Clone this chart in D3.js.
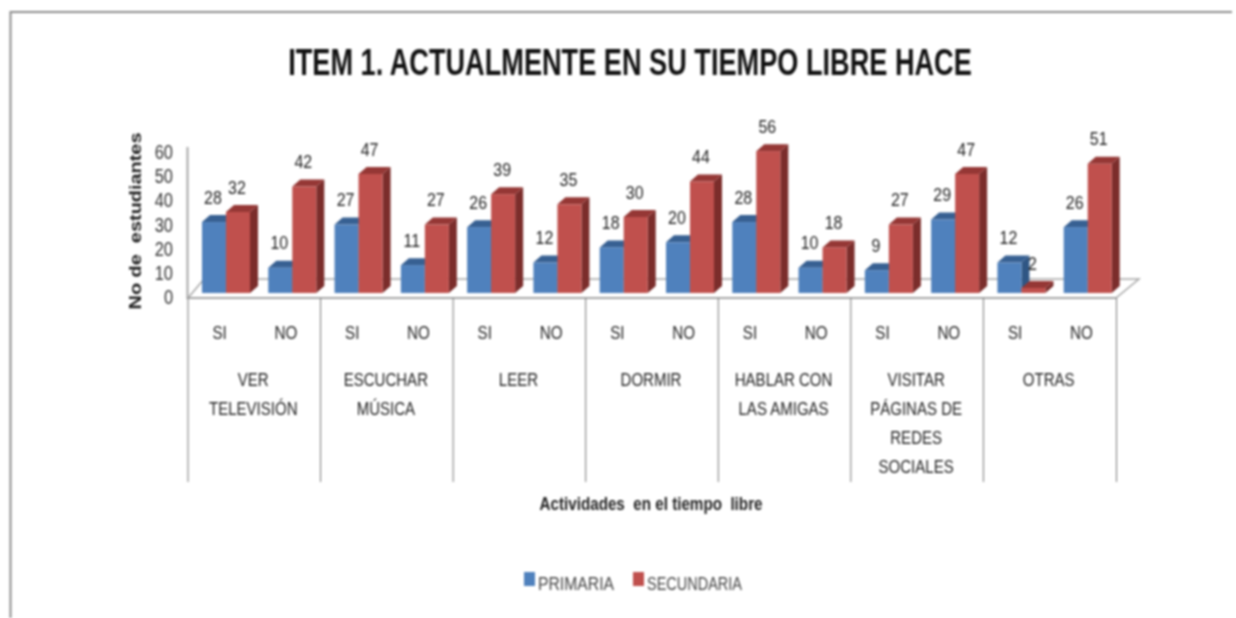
<!DOCTYPE html>
<html><head><meta charset="utf-8">
<script src="https://cdn.jsdelivr.net/npm/d3@7/dist/d3.min.js"></script>
<style>html,body{margin:0;padding:0;background:#fff;overflow:hidden}
svg{display:block;filter:blur(0.8px)}
text{font-family:"Liberation Sans",sans-serif}</style>
</head><body><div id="c"></div>
<script>
const titleText = "ITEM 1. ACTUALMENTE EN SU TIEMPO LIBRE HACE";
const yTitle = "No de  estudiantes";
const xTitle = "Actividades  en el tiempo  libre";
const answers = ["SI","NO","SI","NO","SI","NO","SI","NO","SI","NO","SI","NO","SI","NO"];
const groups = [
  ["VER","TELEVISIÓN"],["ESCUCHAR","MÚSICA"],["LEER"],["DORMIR"],
  ["HABLAR CON","LAS AMIGAS"],["VISITAR","PÁGINAS DE","REDES","SOCIALES"],["OTRAS"]
];
const primaria = [28,10,27,11,26,12,18,20,28,10,9,29,12,26];
const secundaria = [32,42,47,27,39,35,30,44,56,18,27,47,2,51];
const yTicks = [0,10,20,30,40,50,60];
const seriesNames = ["PRIMARIA","SECUNDARIA"];
const colors = {PRIMARIA:{f:"#4f81bd",t:"#376092",s:"#2f5684"},SECUNDARIA:{f:"#c0504d",t:"#953735",s:"#7b2d2b"}};

const W=1236,H=618,dx=8,dy=7;
const svg=d3.select("#c").append("svg").attr("width",W).attr("height",H);
const x=d3.scaleBand().domain(d3.range(14)).range([188,1116]);
const xBar=d3.scaleBand().domain(seriesNames).range([14,62]);
const y=d3.scaleLinear().domain([0,60]).range([293,141]);
const yLab=d3.scaleLinear().domain([0,60]).range([297,152]);
const grey="#a6a6a6";
// squeeze Liberation Sans to the condensed look of the original lettering
function narrow(sel,f){sel.each(function(){
  this.setAttribute("textLength",this.getComputedTextLength()*f);
  this.setAttribute("lengthAdjust","spacingAndGlyphs");});return sel;}

svg.append("path").attr("d",`M10.5,618V12H1232`).attr("fill","none").attr("stroke","#8c8c8c").attr("stroke-width",2);

const title=svg.append("text").attr("text-anchor","middle")
  .attr("font-size",37).attr("font-weight","bold").attr("fill","#111").text(titleText);
title.attr("transform",`translate(630,75) scale(${684/title.node().getComputedTextLength()},1)`);

svg.append("path").attr("d",`M188,298L204,279H1139L1116,298Z`).attr("fill","#fff").attr("stroke",grey).attr("stroke-width",1.5);
svg.append("path").attr("d",`M187.5,147V298H1116`).attr("fill","none").attr("stroke",grey).attr("stroke-width",2);

narrow(svg.append("g").selectAll("text").data(yTicks).join("text")
  .attr("x",173).attr("y",d=>yLab(d)).attr("dy","0.35em").attr("text-anchor","end")
  .attr("font-size",20).attr("fill","#333").text(d=>d),.82);
svg.append("text").attr("transform","translate(141,221) rotate(-90)").attr("text-anchor","middle")
  .attr("font-size",16).attr("font-weight","bold").attr("fill","#222").style("white-space","pre")
  .attr("textLength",177).attr("lengthAdjust","spacingAndGlyphs").text(yTitle);

svg.append("g").selectAll("line").data(d3.range(8)).join("line")
  .attr("x1",d=>d<7?x(d*2):1116.5).attr("x2",d=>d<7?x(d*2):1116.5).attr("y1",298).attr("y2",482)
  .attr("stroke","#777").attr("stroke-width",1);

narrow(svg.append("g").selectAll("text").data(answers).join("text")
  .attr("x",(d,i)=>x(i)+x.bandwidth()/2-1.5).attr("y",332).attr("dy","0.35em").attr("text-anchor","middle")
  .attr("font-size",19).attr("fill","#222").text(d=>d),.8);

const lines=groups.flatMap((g,i)=>g.map((t,j)=>({t,i,j})));
narrow(svg.append("g").selectAll("text").data(lines).join("text")
  .attr("text-anchor","middle").attr("font-size",19).attr("fill","#222")
  .attr("x",d=>x(d.i*2)+x.bandwidth()-1)
  .attr("y",d=>379+d.j*29).attr("dy","0.35em").text(d=>d.t),.79);

const rows=d3.range(14).flatMap(i=>[{i,s:"PRIMARIA",v:primaria[i]},{i,s:"SECUNDARIA",v:secundaria[i]}]);
const b=svg.append("g").selectAll("g").data(rows).join("g")
  .attr("transform",d=>`translate(${x(d.i)+xBar(d.s)},${y(d.v)})`);
const bw=xBar.bandwidth();
b.append("path").attr("d",d=>`M${bw},0l${dx},${-dy}V${y(0)-y(d.v)-dy}l${-dx},${dy}Z`).attr("fill",d=>colors[d.s].s);
b.append("path").attr("d",`M0,0l${dx},${-dy}h${bw}l${-dx},${dy}Z`).attr("fill",d=>colors[d.s].t);
b.append("rect").attr("width",bw).attr("height",d=>y(0)-y(d.v)).attr("fill",d=>colors[d.s].f);

narrow(svg.append("g").selectAll("text").data(rows).join("text")
  .attr("x",d=>x(d.i)+xBar(d.s)+bw/2-1).attr("y",d=>y(d.v)-25).attr("dy","0.35em")
  .attr("text-anchor","middle").attr("font-size",19).attr("fill","#222").text(d=>d.v),.84);

svg.append("text").attr("x",651).attr("y",510).attr("text-anchor","middle")
  .attr("font-size",18).attr("font-weight","bold").attr("fill","#222").style("white-space","pre")
  .attr("textLength",223).attr("lengthAdjust","spacingAndGlyphs").text(xTitle);

const lx=d3.scaleOrdinal().domain(seriesNames).range([524,633]);
const lw=d3.scaleOrdinal().domain(seriesNames).range([76,95]);
const lg=svg.append("g").selectAll("g").data(seriesNames).join("g").attr("transform",d=>`translate(${lx(d)},572)`);
lg.append("rect").attr("width",11).attr("height",14).attr("fill",d=>colors[d].f);
lg.append("text").attr("x",14).attr("y",18).attr("font-size",19).attr("fill","#444")
  .attr("textLength",d=>lw(d)).attr("lengthAdjust","spacingAndGlyphs").text(d=>d);
</script></body></html>
